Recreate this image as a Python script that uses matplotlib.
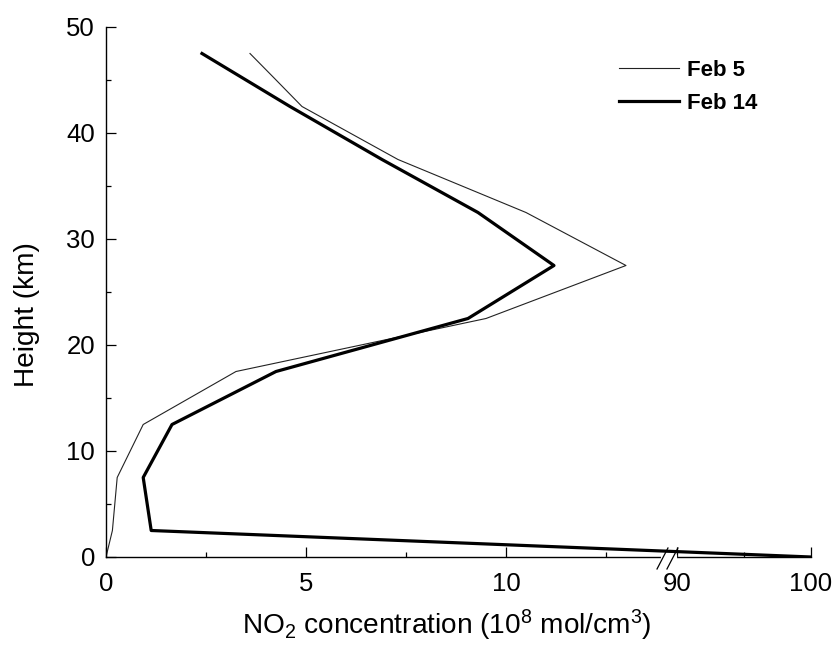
import matplotlib
matplotlib.use("Agg")
import matplotlib.pyplot as plt
import matplotlib.ticker as mticker
import numpy as np

plt.rcParams['font.family'] = ['Liberation Sans', 'DejaVu Sans']
plt.rcParams['mathtext.fontset'] = 'custom'
plt.rcParams['mathtext.rm'] = 'Liberation Sans'
plt.rcParams['mathtext.it'] = 'Liberation Sans'

# profiles
height_feb5 = [47.5, 45.2, 42.5, 37.5, 32.5, 27.5, 22.5, 17.5, 12.5, 7.5, 2.5, 0.0]
no2_feb5 = [3.6, 4.2, 4.9, 7.3, 10.5, 13.0, 9.5, 3.25, 0.93, 0.28, 0.16, 0.0]

height_feb14 = [47.5, 42.5, 37.5, 32.5, 27.5, 22.5, 17.5, 12.5, 7.5, 2.5, 0.0]
no2_feb14 = [2.4, 4.6, 6.9, 9.3, 11.2, 9.05, 4.25, 1.65, 0.93, 1.13, 100.0]

xticks_major = [0, 5, 10, 90, 100]
xticks_minor = [2.5, 7.5, 12.5, 95]
xtick_labels = ['0', '5', '10', '90', '100']

# broken x axis: 0-14 linear, then jump to 89.18-100 compressed
brk_lo, brk_hi, k = 14.0, 89.18, 0.335
knots_x = [-1000.0, brk_lo, brk_hi, 1000.0]
knots_t = [-1000.0, brk_lo, brk_lo + 1e-3, brk_lo + 1e-3 + (1000.0 - brk_hi) * k]

def fwd(x):
    return np.interp(x, knots_x, knots_t)

def inv(t):
    return np.interp(t, knots_t, knots_x)

fig = plt.figure(figsize=(8.35, 6.5), dpi=100)
ax = fig.add_axes([106/835, 1 - 557/650, 705/835, 530/650])
ax.set_xscale('function', functions=(fwd, inv))

ax.plot(no2_feb5, height_feb5, color='#222222', lw=0.8, label='Feb 5')
ax.plot(no2_feb14, height_feb14, color='black', lw=2.3, label='Feb 14')

ax.set_xlim(0, 100)
ax.set_ylim(0, 50)
ax.xaxis.set_major_locator(mticker.FixedLocator(xticks_major))
ax.xaxis.set_major_formatter(mticker.FixedFormatter(xtick_labels))
ax.xaxis.set_minor_locator(mticker.FixedLocator(xticks_minor))
ax.yaxis.set_major_locator(mticker.MultipleLocator(10))
ax.yaxis.set_minor_locator(mticker.MultipleLocator(5))

ax.spines['top'].set_visible(False)
ax.spines['right'].set_visible(False)
for s in ['left', 'bottom']:
    ax.spines[s].set_linewidth(1.0)
ax.tick_params(which='both', direction='in', width=0.9, labelsize=18.5)
ax.tick_params(which='major', length=7.5)
ax.tick_params(which='minor', length=3.8)
ax.tick_params(axis='x', pad=11)
ax.tick_params(axis='y', pad=8)

ax.set_xlabel('NO$_2$ concentration (10$^8$ mol/cm$^3$)', fontsize=20.2, labelpad=8)
ax.xaxis.label.set_x(0.4837)
ax.set_ylabel('Height (km)', fontsize=20.2, labelpad=19)
ax.yaxis.label.set_y(0.4566)

# break marks on the x axis
ax.plot([0.790, 0.8075], [0, 0], color='white', lw=3, transform=ax.transAxes,
        clip_on=False, zorder=5)
for x0 in (0.7816, 0.7957):
    ax.plot([x0, x0 + 0.0155], [-0.0226, 0.017], color='black', lw=0.9,
            transform=ax.transAxes, clip_on=False, zorder=6)

leg = ax.legend(loc='upper left', bbox_to_anchor=(619/835, 1 - 60/650),
                bbox_transform=fig.transFigure, frameon=False,
                prop={'weight': 'bold', 'size': 16},
                handlelength=2.7, handletextpad=0.35, labelspacing=0.52,
                borderaxespad=0, borderpad=0)

fig.savefig('out.png', dpi=100)
